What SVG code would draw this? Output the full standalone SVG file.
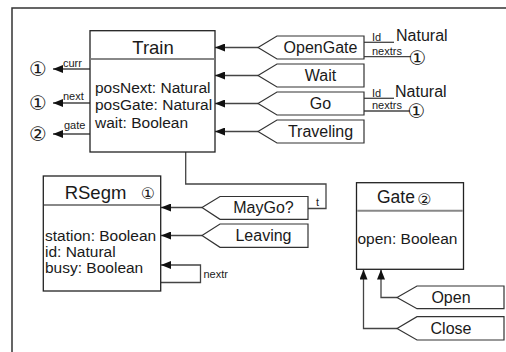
<svg xmlns="http://www.w3.org/2000/svg" width="506" height="352" viewBox="0 0 506 352">
<style>
.box{fill:#fff;stroke:#222;stroke-width:1.3}
.div{stroke:#888;stroke-width:2}
.ev{fill:#fff;stroke:#333;stroke-width:1.2}
.ln{fill:none;stroke:#444;stroke-width:1.3}
.t{font-family:"Liberation Sans",Arial,sans-serif;fill:#1a1a1a}
.title{font-size:18.5px}
.attr{font-size:15.5px}
.evt{font-size:16px;text-anchor:middle}
.sm{font-size:11px}
.cd{font-family:"DejaVu Sans","Noto Sans CJK SC",sans-serif;fill:#1a1a1a;text-anchor:middle}
.cdl{font-size:20px}
.cds{font-size:16px}
</style>
<defs>
<marker id="ah" viewBox="0 0 10 8" refX="10" refY="4" markerWidth="10" markerHeight="8" orient="auto" markerUnits="userSpaceOnUse"><path d="M0,0 L10,4 L0,8 z" fill="#111"/></marker>
</defs>
<rect width="506" height="352" fill="#fff"/>
<path d="M12,352 V8 H506" fill="none" stroke="#333" stroke-width="1.5"/>

<g id="connectors">
<line class="ln" x1="90" y1="69" x2="53" y2="69" marker-end="url(#ah)"/>
<line class="ln" x1="90" y1="103" x2="53" y2="103" marker-end="url(#ah)"/>
<line class="ln" x1="90" y1="134" x2="53" y2="134" marker-end="url(#ah)"/>
<text class="t sm" x="63" y="66.5">curr</text>
<text class="t sm" x="63" y="100">next</text>
<text class="t sm" x="64" y="129">gate</text>
<text class="cd cdl" x="38" y="75.5">①</text>
<text class="cd cdl" x="38" y="109.5">①</text>
<text class="cd cdl" x="38" y="141">②</text>

<line class="ln" x1="258" y1="47.5" x2="215" y2="47.5" marker-end="url(#ah)"/>
<line class="ln" x1="258" y1="75.5" x2="215" y2="75.5" marker-end="url(#ah)"/>
<line class="ln" x1="258" y1="103.5" x2="215" y2="103.5" marker-end="url(#ah)"/>
<line class="ln" x1="258" y1="131.5" x2="215" y2="131.5" marker-end="url(#ah)"/>

<path class="ln" d="M364,42.3 H394"/>
<path class="ln" d="M364,56.7 H411"/>
<text class="t sm" x="372" y="41">Id</text>
<text class="t sm" x="372" y="55">nextrs</text>
<text class="t" x="396" y="41" font-size="16">Natural</text>
<text class="cd cdl" x="417.5" y="64.5">①</text>
<path class="ln" d="M364,98.3 H394"/>
<path class="ln" d="M364,111 H410"/>
<text class="t sm" x="372" y="96.5">Id</text>
<text class="t sm" x="372" y="109">nextrs</text>
<text class="t" x="395" y="96.5" font-size="16">Natural</text>
<text class="cd cdl" x="416.5" y="118">①</text>

<path class="ln" d="M185.7,152 V184 H326 V208.5 H308"/>
<text class="t sm" x="316" y="206">t</text>

<line class="ln" x1="202" y1="207.5" x2="161" y2="207.5" marker-end="url(#ah)"/>
<line class="ln" x1="202" y1="235.5" x2="161" y2="235.5" marker-end="url(#ah)"/>
<path class="ln" d="M161,282.5 H200.5 V265 H161" marker-end="url(#ah)"/>
<text class="t sm" x="203.5" y="278">nextr</text>

<path class="ln" d="M397,297.5 H381 V269.5" marker-end="url(#ah)"/>
<path class="ln" d="M397,328.5 H363.5 V269.5" marker-end="url(#ah)"/>
</g>

<g id="train">
<rect class="box" x="90" y="30.7" width="125" height="121.3"/>
<line class="div" x1="90.7" y1="59" x2="214.3" y2="59"/>
<text class="t title" x="153" y="54" text-anchor="middle">Train</text>
<text class="t attr" x="95" y="93">posNext: Natural</text>
<text class="t attr" x="95" y="110.3">posGate: Natural</text>
<text class="t attr" x="95" y="127.5">wait: Boolean</text>
</g>

<g id="opengate">
<path class="ev" d="M258,47.5 L277,36 H364 V59 H277 Z"/>
<text class="t evt" x="320.5" y="53.3">OpenGate</text>
</g>
<g id="wait">
<path class="ev" d="M258,75.5 L277,64 H364 V87 H277 Z"/>
<text class="t evt" x="320.5" y="81">Wait</text>
</g>
<g id="go">
<path class="ev" d="M258,103.5 L277,92 H364 V115 H277 Z"/>
<text class="t evt" x="320.5" y="109">Go</text>
</g>
<g id="traveling">
<path class="ev" d="M258,131.5 L277,120 H364 V143 H277 Z"/>
<text class="t evt" x="320.5" y="137">Traveling</text>
</g>

<g id="rsegm">
<rect class="box" x="43.3" y="176" width="117.4" height="115"/>
<line class="div" x1="44" y1="205" x2="160" y2="205"/>
<text class="t title" x="95.5" y="199.3" text-anchor="middle">RSegm</text>
<text class="cd cds" x="148" y="199">①</text>
<text class="t attr" x="45" y="241">station: Boolean</text>
<text class="t attr" x="45" y="257">id: Natural</text>
<text class="t attr" x="45" y="273.3">busy: Boolean</text>
</g>

<g id="maygo">
<path class="ev" d="M202,207.5 L220,196.5 H308 V219.3 H220 Z"/>
<text class="t evt" x="263.5" y="213.3">MayGo?</text>
</g>
<g id="leaving">
<path class="ev" d="M202,235.5 L220,224 H308 V247.3 H220 Z"/>
<text class="t evt" x="263.5" y="241">Leaving</text>
</g>

<g id="gate">
<rect class="box" x="356.5" y="182.7" width="107" height="86.6"/>
<line class="div" x1="357.2" y1="210.7" x2="462.8" y2="210.7"/>
<text class="t" x="377" y="203.3" font-size="17.5">Gate</text>
<text class="cd cds" x="424.5" y="205">②</text>
<text class="t attr" x="357.5" y="243.5">open: Boolean</text>
</g>

<g id="open">
<path class="ev" d="M397,297.5 L417,286 H504 V308.7 H417 Z"/>
<text class="t evt" x="451" y="303">Open</text>
</g>
<g id="close">
<path class="ev" d="M397,328.5 L417,316.7 H504 V340 H417 Z"/>
<text class="t evt" x="451" y="334">Close</text>
</g>
</svg>
